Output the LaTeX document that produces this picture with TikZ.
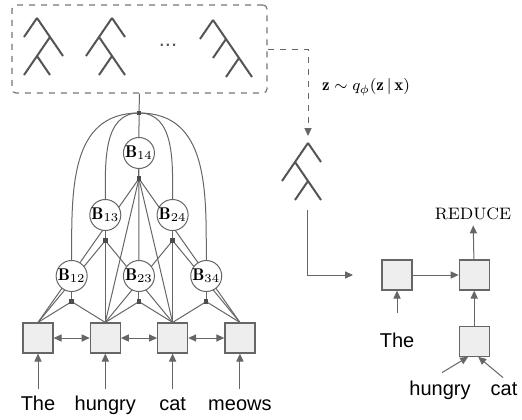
\documentclass[tikz,border=0pt]{standalone}
\usepackage{fontspec}
\usepackage{amsmath}
\usetikzlibrary{arrows.meta,positioning}
\newfontfamily\wordfont{Liberation Sans}
\definecolor{linegray}{HTML}{666666}
\definecolor{cellfill}{HTML}{EEEEEE}
\definecolor{treegray}{HTML}{555555}
\pgfdeclarelayer{bg}
\pgfsetlayers{bg,main}

\begin{document}
\begin{tikzpicture}[x=5pt, y=5pt,
    link/.style={draw=linegray, line width=0.5pt},
    tip/.style={-{Triangle[length=4pt,width=3.6pt]}},
    arr/.style={link, tip},
    var/.style={circle, draw=linegray, fill=white, minimum size=15.5pt, inner sep=0pt,
                line width=0.5pt, font=\fontsize{8.5}{10}\selectfont},
    fac/.style={rectangle, fill=black!70, minimum size=2.2pt, inner sep=0pt},
    cell/.style={rectangle, draw=linegray, fill=cellfill, minimum size=15pt, inner sep=0pt,
                 line width=0.6pt},
    word/.style={font=\wordfont\fontsize{10}{12}\selectfont, text height=7pt, text depth=2pt,
                 inner sep=0pt, anchor=base},
    tree/.style={draw=treegray, line width=1pt},
  ]
  \def\wx{3.8}
  \def\wgap{6.73}

  % Fixed bounding box
  \path[use as bounding box] (0,0) rectangle (52.2,41.9);

  % ---- Sampled trees (dashed box) ----
  \node[draw=linegray!90, dashed, rounded corners=2pt, line width=0.6pt,
        minimum width=127.5pt, minimum height=44pt] (samples) at (13.95,37.0) {};
  \begin{scope}[shift={(3.7,40.1)}, x=6.5pt, y=-9.5pt]
    \draw[tree] (0,0) -- (-1,1) (0,0) -- (2,2) (1,1) -- (-1,3) (0,2) -- (1,3);
  \end{scope}
  \begin{scope}[shift={(11.2,40.1)}, x=6.5pt, y=-9.5pt]
    \draw[tree] (0,0) -- (-2,2) (0,0) -- (1,1) (-1,1) -- (1,3) (0,2) -- (-1,3);
  \end{scope}
  \begin{scope}[shift={(21.3,39.9)}, x=6.5pt, y=-9.5pt]
    \draw[tree] (0,0) -- (-1,1) (0,0) -- (3,3) (1,1) -- (0,2) (2,2) -- (1,3);
  \end{scope}
  \node[font=\wordfont\fontsize{11}{12}\selectfont, text=treegray] (dots) at (16.8,37.4) {...};

  % ---- LSTM cells and words ----
  \foreach \i/\w in {1/The, 2/hungry, 3/cat, 4/meows} {
    \pgfmathsetmacro{\xx}{\wx+\wgap*(\i-1)}
    \node[cell] (w\i) at (\xx,8.1) {};
    \node[word] (t\i) at (\xx,0.9) {\w};
    \draw[arr] ([yshift=3.5pt]t\i.north) -- (w\i);
  }
  \foreach \i/\j in {1/2, 2/3, 3/4}
    \draw[link, {Triangle[length=4pt,width=3.6pt]}-{Triangle[length=4pt,width=3.6pt]}] (w\i) -- (w\j);

  % ---- Chart variables B_ij and their factors ----
  \foreach \i/\j/\yy in {1/2/14.3, 2/3/14.3, 3/4/14.3, 1/3/20.4, 2/4/20.4, 1/4/26.6} {
    \pgfmathsetmacro{\xx}{\wx+\wgap*(\i+\j-2)/2}
    \node[var] (b\i\j) at (\xx,\yy) {$\mathbf{B}_{\i\j}$};
    \node[fac, below=3.5pt of b\i\j] (f\i\j) {};
  }
  \node[fac] (glob) at (13.9,30.6) {};

  \begin{pgfonlayer}{bg}
    \foreach \i/\j in {1/2, 2/3, 3/4, 1/3, 2/4, 1/4} {
      \draw[link] (b\i\j) -- (f\i\j);
      \foreach \k in {\i,...,\j}
        \draw[link] (f\i\j.center) -- (w\k.north);
    }
    % global factor
    \draw[link] (samples.south) -- (glob.center) -- (b23.north);
    \draw[link] (glob.center) to[out=180, in=90, looseness=1.1] (b12.north);
    \draw[link] (glob.center) to[out=180, in=90] (b13.north);
    \draw[link] (glob.center) to[out=0, in=90] (b24.north);
    \draw[link] (glob.center) to[out=0, in=90, looseness=1.1] (b34.north);
  \end{pgfonlayer}

  % ---- Sampling ----
  \coordinate (ztop) at (30.8,28.3);
  \draw[link, dashed, tip] (samples.east) -| (ztop);
  \node[anchor=west, font=\fontsize{8.5}{10}\selectfont] (qlabel) at (31.5,33.2)
    {$\mathbf{z} \sim q_{\phi}(\mathbf{z}\,|\,\mathbf{x})$};
  \begin{scope}[shift={(30.8,27.6)}, x=6.5pt, y=-9.5pt]
    \draw[tree] (0,0) -- (-2,2) (0,0) -- (1,1) (-1,1) -- (1,3) (0,2) -- (-1,3);
  \end{scope}

  % ---- RNNG ----
  \coordinate (lstart) at (30.7,20.9);
  \coordinate (lend) at (35.3,14.4);
  \draw[arr] (lstart) |- (lend);

  \node[cell] (s1) at (39.7,14.4) {};
  \node[cell, right=23pt of s1] (s2) {};
  \node[cell, below=17.5pt of s2] (s3) {};
  \node[font=\fontsize{8.3}{10}\selectfont, inner sep=2.5pt] (reduce) at (47.3,20.5) {REDUCE};
  \node[word] (rt) at (39.7,7.2) {The};
  \node[word] (rh) at (44.0,2.4) {hungry};
  \node[word] (rc) at (50.4,2.4) {cat};

  \draw[arr] (s1) -- (s2);
  \draw[arr] (s3) -- (s2);
  \draw[arr] (s2) -- (reduce);
  \draw[arr] ([yshift=10pt]rt.north) -- (s1);
  \draw[arr] ([xshift=1pt,yshift=4pt]rh.north) -- ([xshift=-3pt]s3.south);
  \draw[arr] ([xshift=-0.5pt,yshift=1.5pt]rc.north) -- ([xshift=2pt]s3.south);

\end{tikzpicture}
\end{document}
